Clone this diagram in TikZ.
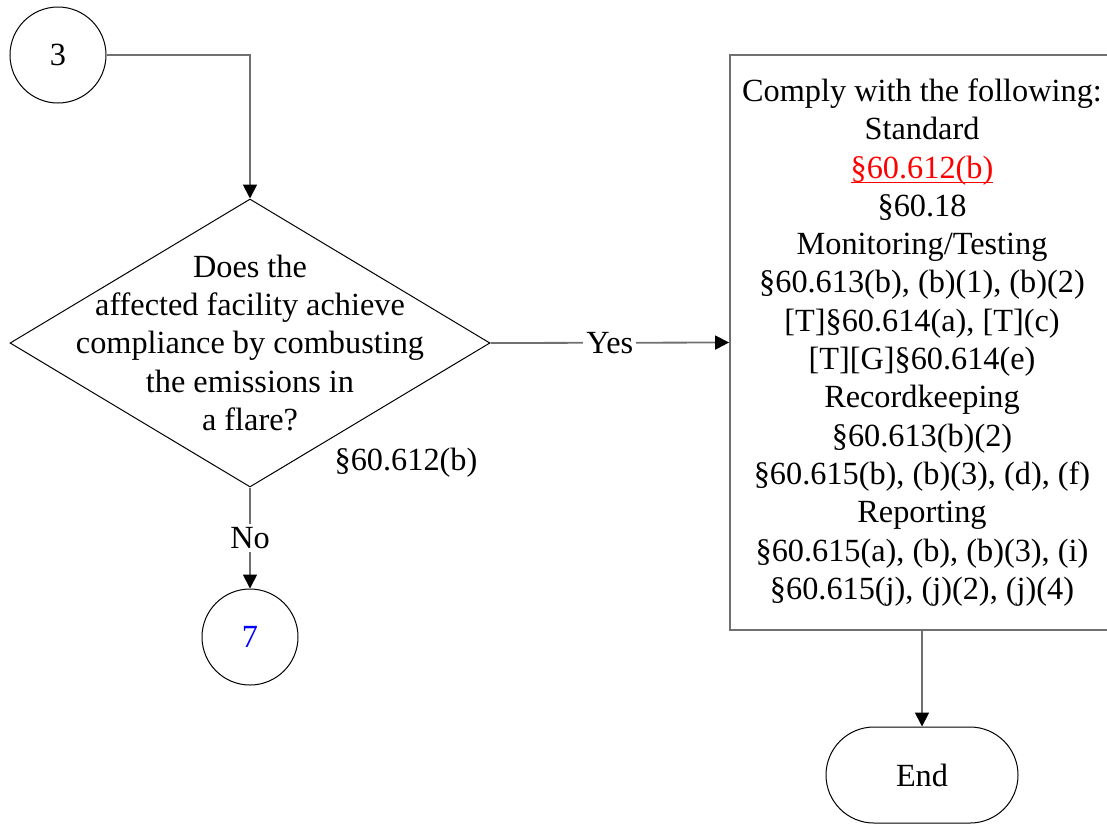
\documentclass[tikz,border=0pt]{standalone}
\usepackage{fontspec}
\setmainfont{Liberation Serif}
\usetikzlibrary{shapes.geometric,arrows.meta}
\definecolor{lg}{RGB}{112,112,112}
\newcommand{\redlink}[1]{\textcolor{red}{\setbox0\hbox{#1}\rlap{\rule[-2.5pt]{\wd0}{0.55pt}}\box0}}
\begin{document}
\begin{tikzpicture}[x=0.5pt,y=-0.5pt,
  every node/.style={font=\fontsize{16.15}{19.15}\selectfont},
  conn/.style={draw=lg,line width=0.9pt},
  arr/.style={conn,-{Triangle[length=7pt,width=7pt,fill=black,color=black]}},
  circ/.style={draw,circle,line width=0.5pt,minimum size=48pt,inner sep=0pt},
  lbl/.style={fill=white,inner sep=1.5pt},
]
\useasboundingbox (0,0) rectangle (1107,826);
\clip (0,0) rectangle (1107,826);
\node[circ] (c3) at (58,55) {3};
\node[draw,diamond,line width=0.5pt,minimum width=240pt,minimum height=144pt,inner sep=0pt] (dec) at (250,343) {};
\node[align=center] (dtext) at (250,343) {Does the\\affected facility achieve\\compliance by combusting\\the emissions in\\a flare?};
\node (ref) at (406,463) {§60.612(b)};
\node[circ,text=blue] (c7) at (250,637) {7};
\node[draw=lg,line width=0.9pt,minimum width=192pt,minimum height=287.5pt,align=center,inner sep=0pt] (box) at (922,342.5) {Comply with the following:\\Standard\\\redlink{§60.612(b)}\\§60.18\\Monitoring/Testing\\§60.613(b), (b)(1), (b)(2)\\{[T]}§60.614(a), [T](c)\\{[T][G]}§60.614(e)\\Recordkeeping\\§60.613(b)(2)\\§60.615(b), (b)(3), (d), (f)\\Reporting\\§60.615(a), (b), (b)(3), (i)\\§60.615(j), (j)(2), (j)(4)};
\node[draw,rectangle,rounded corners=24pt,line width=0.5pt,minimum width=96pt,minimum height=48pt] (endn) at (922,775) {End};
\draw[arr] (c3.east) -| (dec.north);
\draw[arr] (dec.east) -- node[lbl]{Yes} (box.west);
\draw[arr] (dec.south) -- node[lbl]{No} (c7.north);
\draw[arr] (box.south) -- (endn.north);
\end{tikzpicture}
\end{document}
